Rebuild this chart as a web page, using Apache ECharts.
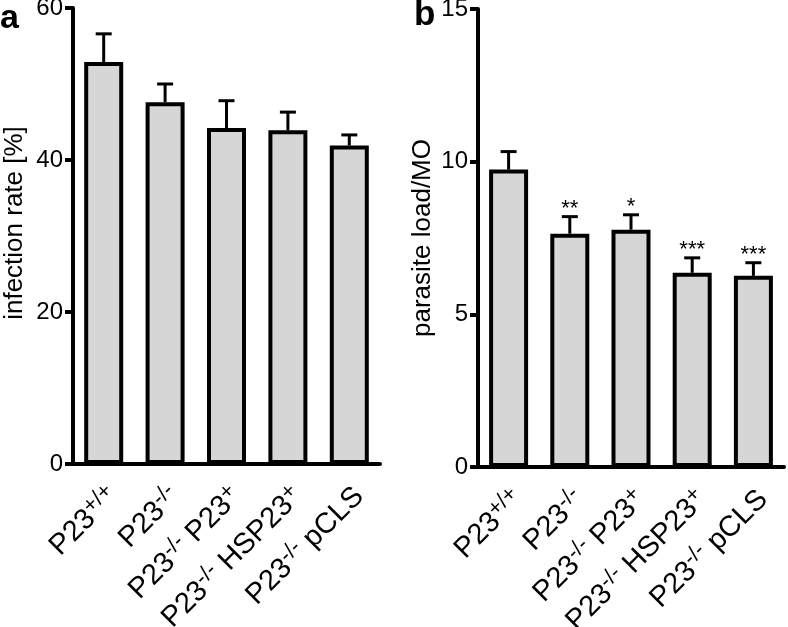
<!DOCTYPE html>
<html>
<head>
<meta charset="utf-8">
<script src="https://cdn.jsdelivr.net/npm/echarts@6/dist/echarts.min.js"></script>
<style>html,body{margin:0;padding:0;background:#fff}#c{width:788px;height:627px}</style>
</head>
<body>
<div id="c"></div>
<script>
const categories = ['P23+/+', 'P23-/-', 'P23-/- P23+', 'P23-/- HSP23+', 'P23-/- pCLS'];
const infectionRate = [52.9, 47.6, 44.2, 43.9, 41.9];
const infectionSem = [3.7, 2.4, 3.6, 2.4, 1.4];
const parasiteLoad = [9.74, 7.64, 7.77, 6.36, 6.26];
const parasiteSem = [0.59, 0.56, 0.49, 0.49, 0.43];
const significance = ['', '**', '*', '***', '***'];
const yTicksA = [0, 20, 40, 60];
const yTicksB = [0, 5, 10, 15];

const FONT = '"Liberation Sans", Arial, sans-serif';
const richLabels = [
  '{n|P23}{s|+/+}',
  '{n|P23}{s|-/-}',
  '{n|P23}{s|-/-}{n| P23}{s|+}',
  '{n|P23}{s|-/-}{n| HSP23}{s|+}',
  '{n|P23}{s|-/-}{n| pCLS}'
];
function fmt(v) { return richLabels[categories.indexOf(v)]; }

function errRender(sigs) {
  return function (params, api) {
    const x = api.value(0), v = api.value(1), e = api.value(2);
    const base = api.coord([x, v]);
    const top = api.coord([x, v + e]);
    const cap = 8;
    const ch = [
      {type: 'line', shape: {x1: base[0], y1: base[1], x2: top[0], y2: top[1]}, style: {stroke: '#000', lineWidth: 3}},
      {type: 'line', shape: {x1: top[0] - cap, y1: top[1], x2: top[0] + cap, y2: top[1]}, style: {stroke: '#000', lineWidth: 3}}
    ];
    const s = sigs ? sigs[params.dataIndex] : '';
    if (s) ch.push({type: 'text', style: {text: s, x: top[0], y: top[1] + 3, align: 'center', verticalAlign: 'bottom', font: '22px ' + FONT, fill: '#000'}});
    return {type: 'group', children: ch};
  };
}

const xAxisCommon = {
  type: 'category',
  data: categories,
  axisLine: {lineStyle: {color: '#000', width: 4}},
  axisTick: {alignWithLabel: true, length: 9, lineStyle: {color: '#000', width: 4}},
  axisLabel: {
    rotate: 45, margin: 18, interval: 0, color: '#000', formatter: fmt,
    padding: [28, 0, 0, 0],
    rich: {
      n: {fontSize: 29, fontFamily: FONT, color: '#000', lineHeight: 35},
      s: {fontSize: 22, fontFamily: FONT, color: '#000', lineHeight: 23, verticalAlign: 'top'}
    }
  }
};
const yAxisCommon = {
  type: 'value',
  min: 0,
  splitLine: {show: false},
  axisLine: {show: true, lineStyle: {color: '#000', width: 4}},
  axisTick: {show: true, length: 8, lineStyle: {color: '#000', width: 4}},
  axisLabel: {fontSize: 24, fontFamily: FONT, color: '#000', margin: 10},
  nameLocation: 'middle',
  nameTextStyle: {fontSize: 26, fontFamily: FONT, color: '#000'}
};

const chart = echarts.init(document.getElementById('c'));
chart.setOption({
  animation: false,
  backgroundColor: '#fff',
  grid: [
    {left: 73, top: 8, width: 307, height: 456, containLabel: false, outerBoundsMode: 'none'},
    {left: 478, top: 9, width: 306, height: 458, containLabel: false, outerBoundsMode: 'none'}
  ],
  xAxis: [
    Object.assign({gridIndex: 0}, xAxisCommon),
    Object.assign({gridIndex: 1}, xAxisCommon)
  ],
  yAxis: [
    Object.assign({}, yAxisCommon, {gridIndex: 0, max: yTicksA[yTicksA.length - 1], interval: yTicksA[1] - yTicksA[0],
      name: 'infection rate [%]', nameGap: 45,
      nameTextStyle: {fontSize: 26, fontFamily: FONT, color: '#000', padding: [0, 0, 0, 26]}}),
    Object.assign({}, yAxisCommon, {gridIndex: 1, max: yTicksB[yTicksB.length - 1], interval: yTicksB[1] - yTicksB[0],
      name: 'parasite load/MO', nameGap: 42})
  ],
  graphic: [
    {type: 'text', left: 0, top: 2, style: {text: 'a', font: 'bold 34px ' + FONT, fill: '#000'}},
    {type: 'text', left: 414, top: -2, style: {text: 'b', font: 'bold 35px ' + FONT, fill: '#000'}}
  ],
  series: [
    {type: 'bar', xAxisIndex: 0, yAxisIndex: 0, data: infectionRate, barWidth: 39,
     itemStyle: {color: '#d6d6d6', borderColor: '#000', borderWidth: 4}, z: 2},
    {type: 'custom', xAxisIndex: 0, yAxisIndex: 0, renderItem: errRender(null), z: 1,
     data: infectionRate.map((v, i) => [i, v, infectionSem[i]])},
    {type: 'bar', xAxisIndex: 1, yAxisIndex: 1, data: parasiteLoad, barWidth: 39,
     itemStyle: {color: '#d6d6d6', borderColor: '#000', borderWidth: 4}, z: 2},
    {type: 'custom', xAxisIndex: 1, yAxisIndex: 1, renderItem: errRender(significance), z: 1,
     data: parasiteLoad.map((v, i) => [i, v, parasiteSem[i]])}
  ]
});
</script>
</body>
</html>
